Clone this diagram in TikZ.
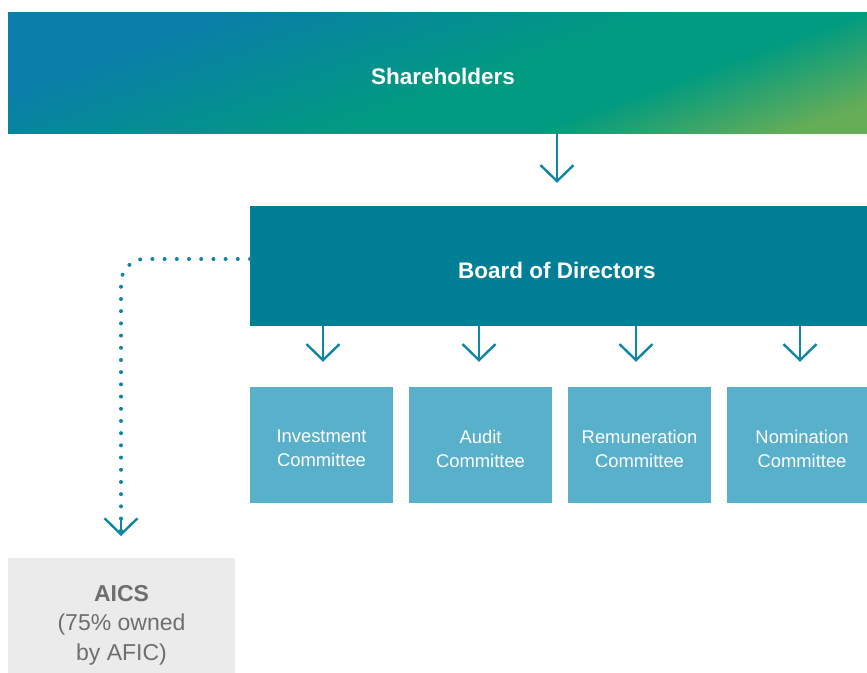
\documentclass[tikz,border=0pt]{standalone}
\usepackage{fontspec}
\setmainfont{Liberation Sans}
\usetikzlibrary{arrows.meta}
\definecolor{cA}{HTML}{0A7EA8}
\definecolor{cB}{HTML}{009B80}
\definecolor{cC}{HTML}{66AD57}
\definecolor{boardc}{HTML}{007E96}
\definecolor{commc}{HTML}{58B0CA}
\definecolor{arrc}{HTML}{0E86A6}
\definecolor{aicsbg}{HTML}{EBEBEB}
\definecolor{aicstx}{HTML}{6E6E6E}
\pgfdeclarehorizontalshading{shgrad}{100bp}{color(0bp)=(cA); color(30bp)=(cA); color(54bp)=(cB); color(64bp)=(cB); color(78bp)=(cC); color(100bp)=(cC)}
\tikzset{
  box/.style={rectangle, inner sep=0pt, align=center, text=white},
  commbox/.style={box, fill=commc, minimum height=116pt},
  commtext/.style={box, font=\fontsize{18.4}{24}\selectfont},
  bigtext/.style={box, font=\fontsize{22.5}{26}\selectfont\bfseries},
  chev/.style={draw=arrc, line width=2.4pt, -{Straight Barb[length=16pt,width=33pt,line width=2.4pt]}},
  dotline/.style={draw=arrc, line width=4pt, line cap=round, dash pattern=on 0pt off 12.2pt, rounded corners=24pt}
}
\begin{document}
\begin{tikzpicture}[x=1pt,y=-1pt]
\useasboundingbox (0,0) rectangle (867,672);
\shade[shading=shgrad, shading angle=-70] (8,12) rectangle (867,133);
\node[box, minimum width=859pt, minimum height=121pt] (sh) at (437.5,72.5) {};
\node[bigtext] (sht) at (443,76) {Shareholders};
\node[box, fill=boardc, minimum width=617pt, minimum height=120pt] (board) at (558.5,266) {};
\node[bigtext] (boardt) at (557,270) {Board of Directors};
\node[commbox, minimum width=143pt] (inv) at (321.5,445) {};
\node[commbox, minimum width=143pt] (aud) at (480.5,445) {};
\node[commbox, minimum width=143pt] (rem) at (639.5,445) {};
\node[commbox, minimum width=140pt] (nom) at (797,445) {};
\node[commtext] (invt) at (321.5,448.5) {Investment\\Committee};
\node[commtext] (audt) at (480.5,448.5) {Audit\\Committee};
\node[commtext] (remt) at (639.5,448.5) {Remuneration\\Committee};
\node[commtext] (nomt) at (802,448.5) {Nomination\\Committee};
\node[box, fill=aicsbg, minimum width=227pt, minimum height=134pt] (aics) at (121.5,625) {};
\node[box, text=aicstx, font=\fontsize{23}{29.5}\selectfont] (aicst) at (121.5,625) {\textbf{AICS}\\(75\% owned\\by AFIC)};
\coordinate (shx) at (557,133);
\draw[chev, shorten >=23pt] (shx) -- (shx |- board.north);
\coordinate (b1) at (323,326);
\coordinate (b2) at (479,326);
\coordinate (b3) at (636,326);
\coordinate (b4) at (800,326);
\draw[chev, shorten >=25pt] (b1) -- (b1 |- inv.north);
\draw[chev, shorten >=25pt] (b2) -- (b2 |- aud.north);
\draw[chev, shorten >=25pt] (b3) -- (b3 |- rem.north);
\draw[chev, shorten >=25pt] (b4) -- (b4 |- nom.north);
\coordinate (bw) at (250,259);
\coordinate (aicsTop) at (121,558);
\draw[dotline] (bw) -- (121,259) -- (121,536);
\draw[draw=arrc, line width=2.4pt, -{Straight Barb[length=16pt,width=33pt,line width=2.4pt]}, shorten >=22pt] (121,520) -- (aicsTop);
\end{tikzpicture}
\end{document}
